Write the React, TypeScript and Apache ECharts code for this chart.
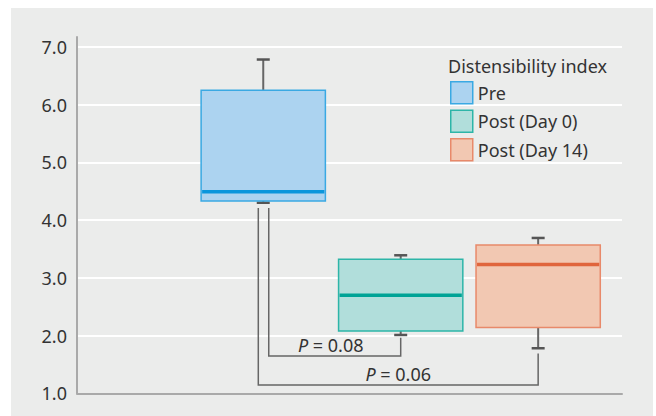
import React, { useEffect, useRef } from "react";
import * as echarts from "echarts";

// Categories and positions on the x scale
const groups = ["Pre", "Post (Day 0)", "Post (Day 14)"];
const positions = [1, 2, 3];
// Box statistics: [min, Q1, median, Q3, max]
const preStats = [4.3, 4.33, 4.49, 6.25, 6.78];
const day0Stats = [2.01, 2.08, 2.7, 3.32, 3.39];
const day14Stats = [1.78, 2.14, 3.23, 3.57, 3.69];
const yTicks = [1, 2, 3, 4, 5, 6, 7];
const legendTitle = "Distensibility index";
const pValues = ["0.08", "0.06"];
// Significance brackets: [xLeft, yLeftTop, xRight, yRightTop, yBottom]
const bracketPre_Day0 = [1.04, 4.21, 2.0, 1.96, 1.645];
const bracketPre_Day14 = [0.964, 4.21, 3.0, 1.69, 1.145];

const FONT = "'Noto Sans', sans-serif";
const fills = ["#acd3f0", "#b1dedb", "#f2c8b2"];
const borders = ["#3aa9e3", "#2db5a8", "#e8896a"];
const medians = ["#0a96dc", "#00a396", "#e0653c"];

export default function App() {
  const ref = useRef<HTMLDivElement>(null);
  useEffect(() => {
    if (!ref.current) return;
    const chart = echarts.init(ref.current, undefined, { renderer: "svg" });
    const allStats = [preStats, day0Stats, day14Stats];

    const boxSeries = groups.map((name, i) => ({
      type: "custom",
      name,
      data: [[positions[i], ...allStats[i]]],
      itemStyle: { color: fills[i], borderColor: borders[i], borderWidth: 1.5 },
      encode: { x: 0, y: [1, 2, 3, 4, 5] },
      renderItem: (params: any, api: any) => {
        const x = api.value(0);
        const pt = (v: number) => api.coord([x, v]);
        const [cx, yMin] = pt(api.value(1));
        const yQ1 = pt(api.value(2))[1];
        const yMed = pt(api.value(3))[1];
        const yQ3 = pt(api.value(4))[1];
        const yMax = pt(api.value(5))[1];
        const hw = api.size([1, 0])[0] * 0.452;
        const cap = 6.5;
        const wStyle = { stroke: "#666", lineWidth: 2 };
        const cStyle = { stroke: "#555", lineWidth: 2.5 };
        return {
          type: "group",
          children: [
            { type: "line", shape: { x1: cx, y1: yMax, x2: cx, y2: yQ3 }, style: wStyle },
            { type: "line", shape: { x1: cx, y1: yQ1, x2: cx, y2: yMin }, style: wStyle },
            { type: "line", shape: { x1: cx - cap, y1: yMax, x2: cx + cap, y2: yMax }, style: cStyle },
            { type: "line", shape: { x1: cx - cap, y1: yMin, x2: cx + cap, y2: yMin }, style: cStyle },
            {
              type: "rect",
              shape: { x: cx - hw, y: yQ3, width: 2 * hw, height: yQ1 - yQ3 },
              style: { fill: fills[i], stroke: borders[i], lineWidth: 1.5 },
            },
            {
              type: "line",
              shape: { x1: cx - hw + 1, y1: yMed, x2: cx + hw - 1, y2: yMed },
              style: { stroke: medians[i], lineWidth: 3.5 },
            },
          ],
        };
      },
      z: 3,
    }));

    const bracketSeries = {
      type: "custom",
      name: "brackets",
      data: [bracketPre_Day0, bracketPre_Day14].map((b, k) => [...b, k]),
      encode: { x: [0, 2], y: [1, 3, 4] },
      renderItem: (params: any, api: any) => {
        const [xl, ylt] = api.coord([api.value(0), api.value(1)]);
        const [xr, yrt] = api.coord([api.value(2), api.value(3)]);
        const yb = api.coord([api.value(0), api.value(4)])[1];
        const k = api.value(5);
        return {
          type: "group",
          children: [
            {
              type: "polyline",
              shape: { points: [[xl, ylt], [xl, yb], [xr, yb], [xr, yrt]] },
              style: { stroke: "#666", lineWidth: 1.5, fill: null },
            },
            {
              type: "text",
              x: (xl + xr) / 2 - (k === 0 ? 4 : 0),
              y: yb - 2,
              style: {
                text: "{i|P} = " + pValues[k],
                align: "center",
                verticalAlign: "bottom",
                fill: "#333",
                fontSize: 18,
                fontFamily: FONT,
                rich: {
                  i: { fontStyle: "italic", fontSize: 18, fontFamily: FONT, fill: "#333" },
                },
              },
            },
          ],
        };
      },
      z: 2,
      silent: true,
    };

    chart.setOption({
      animation: false,
      textStyle: { fontFamily: FONT },
      graphic: [
        {
          type: "rect",
          z: -100,
          silent: true,
          shape: { x: 11, y: 8, width: 642, height: 408 },
          style: { fill: "#ebeceb" },
        },
      ],
      title: {
        text: legendTitle,
        left: 448,
        top: 57,
        padding: 0,
        textStyle: { fontSize: 18, fontWeight: "normal", color: "#333", fontFamily: FONT },
      },
      legend: {
        orient: "vertical",
        left: 450,
        top: 81,
        padding: 0,
        itemWidth: 22,
        itemHeight: 22,
        itemGap: 5,
        selectedMode: false,
        textStyle: { fontSize: 18, color: "#333", fontFamily: FONT },
        data: groups.map((g, i) => ({
          name: g,
          icon: "rect",
          itemStyle: { color: fills[i], borderColor: borders[i], borderWidth: 1.5 },
        })),
      },
      grid: { left: 77, right: 34, top: 37, bottom: 22.7 },
      xAxis: {
        type: "value",
        min: -0.355,
        max: 3.61,
        axisLine: { show: true, onZero: false, lineStyle: { color: "#a9a9a9", width: 2 } },
        axisTick: { show: false },
        axisLabel: { show: false },
        splitLine: { show: false },
      },
      yAxis: {
        type: "value",
        min: yTicks[0],
        max: 7.17,
        interval: 1,
        axisLine: { show: true, onZero: false, lineStyle: { color: "#a9a9a9", width: 2 } },
        axisTick: { show: false },
        axisLabel: {
          fontSize: 18,
          color: "#333",
          fontFamily: FONT,
          margin: 10,
          formatter: (v: number) => (yTicks.includes(Math.round(v * 1000) / 1000) ? v.toFixed(1) : ""),
        },
        splitLine: { show: true, showMinLine: false, showMaxLine: false, lineStyle: { color: "#ffffff", width: 2 } },
      },
      series: [...boxSeries, bracketSeries],
    });
    return () => chart.dispose();
  }, []);
  return (
    <div
      ref={ref}
      style={{ position: "absolute", left: 0, top: 0, width: 656, height: 416 }}
    />
  );
}
